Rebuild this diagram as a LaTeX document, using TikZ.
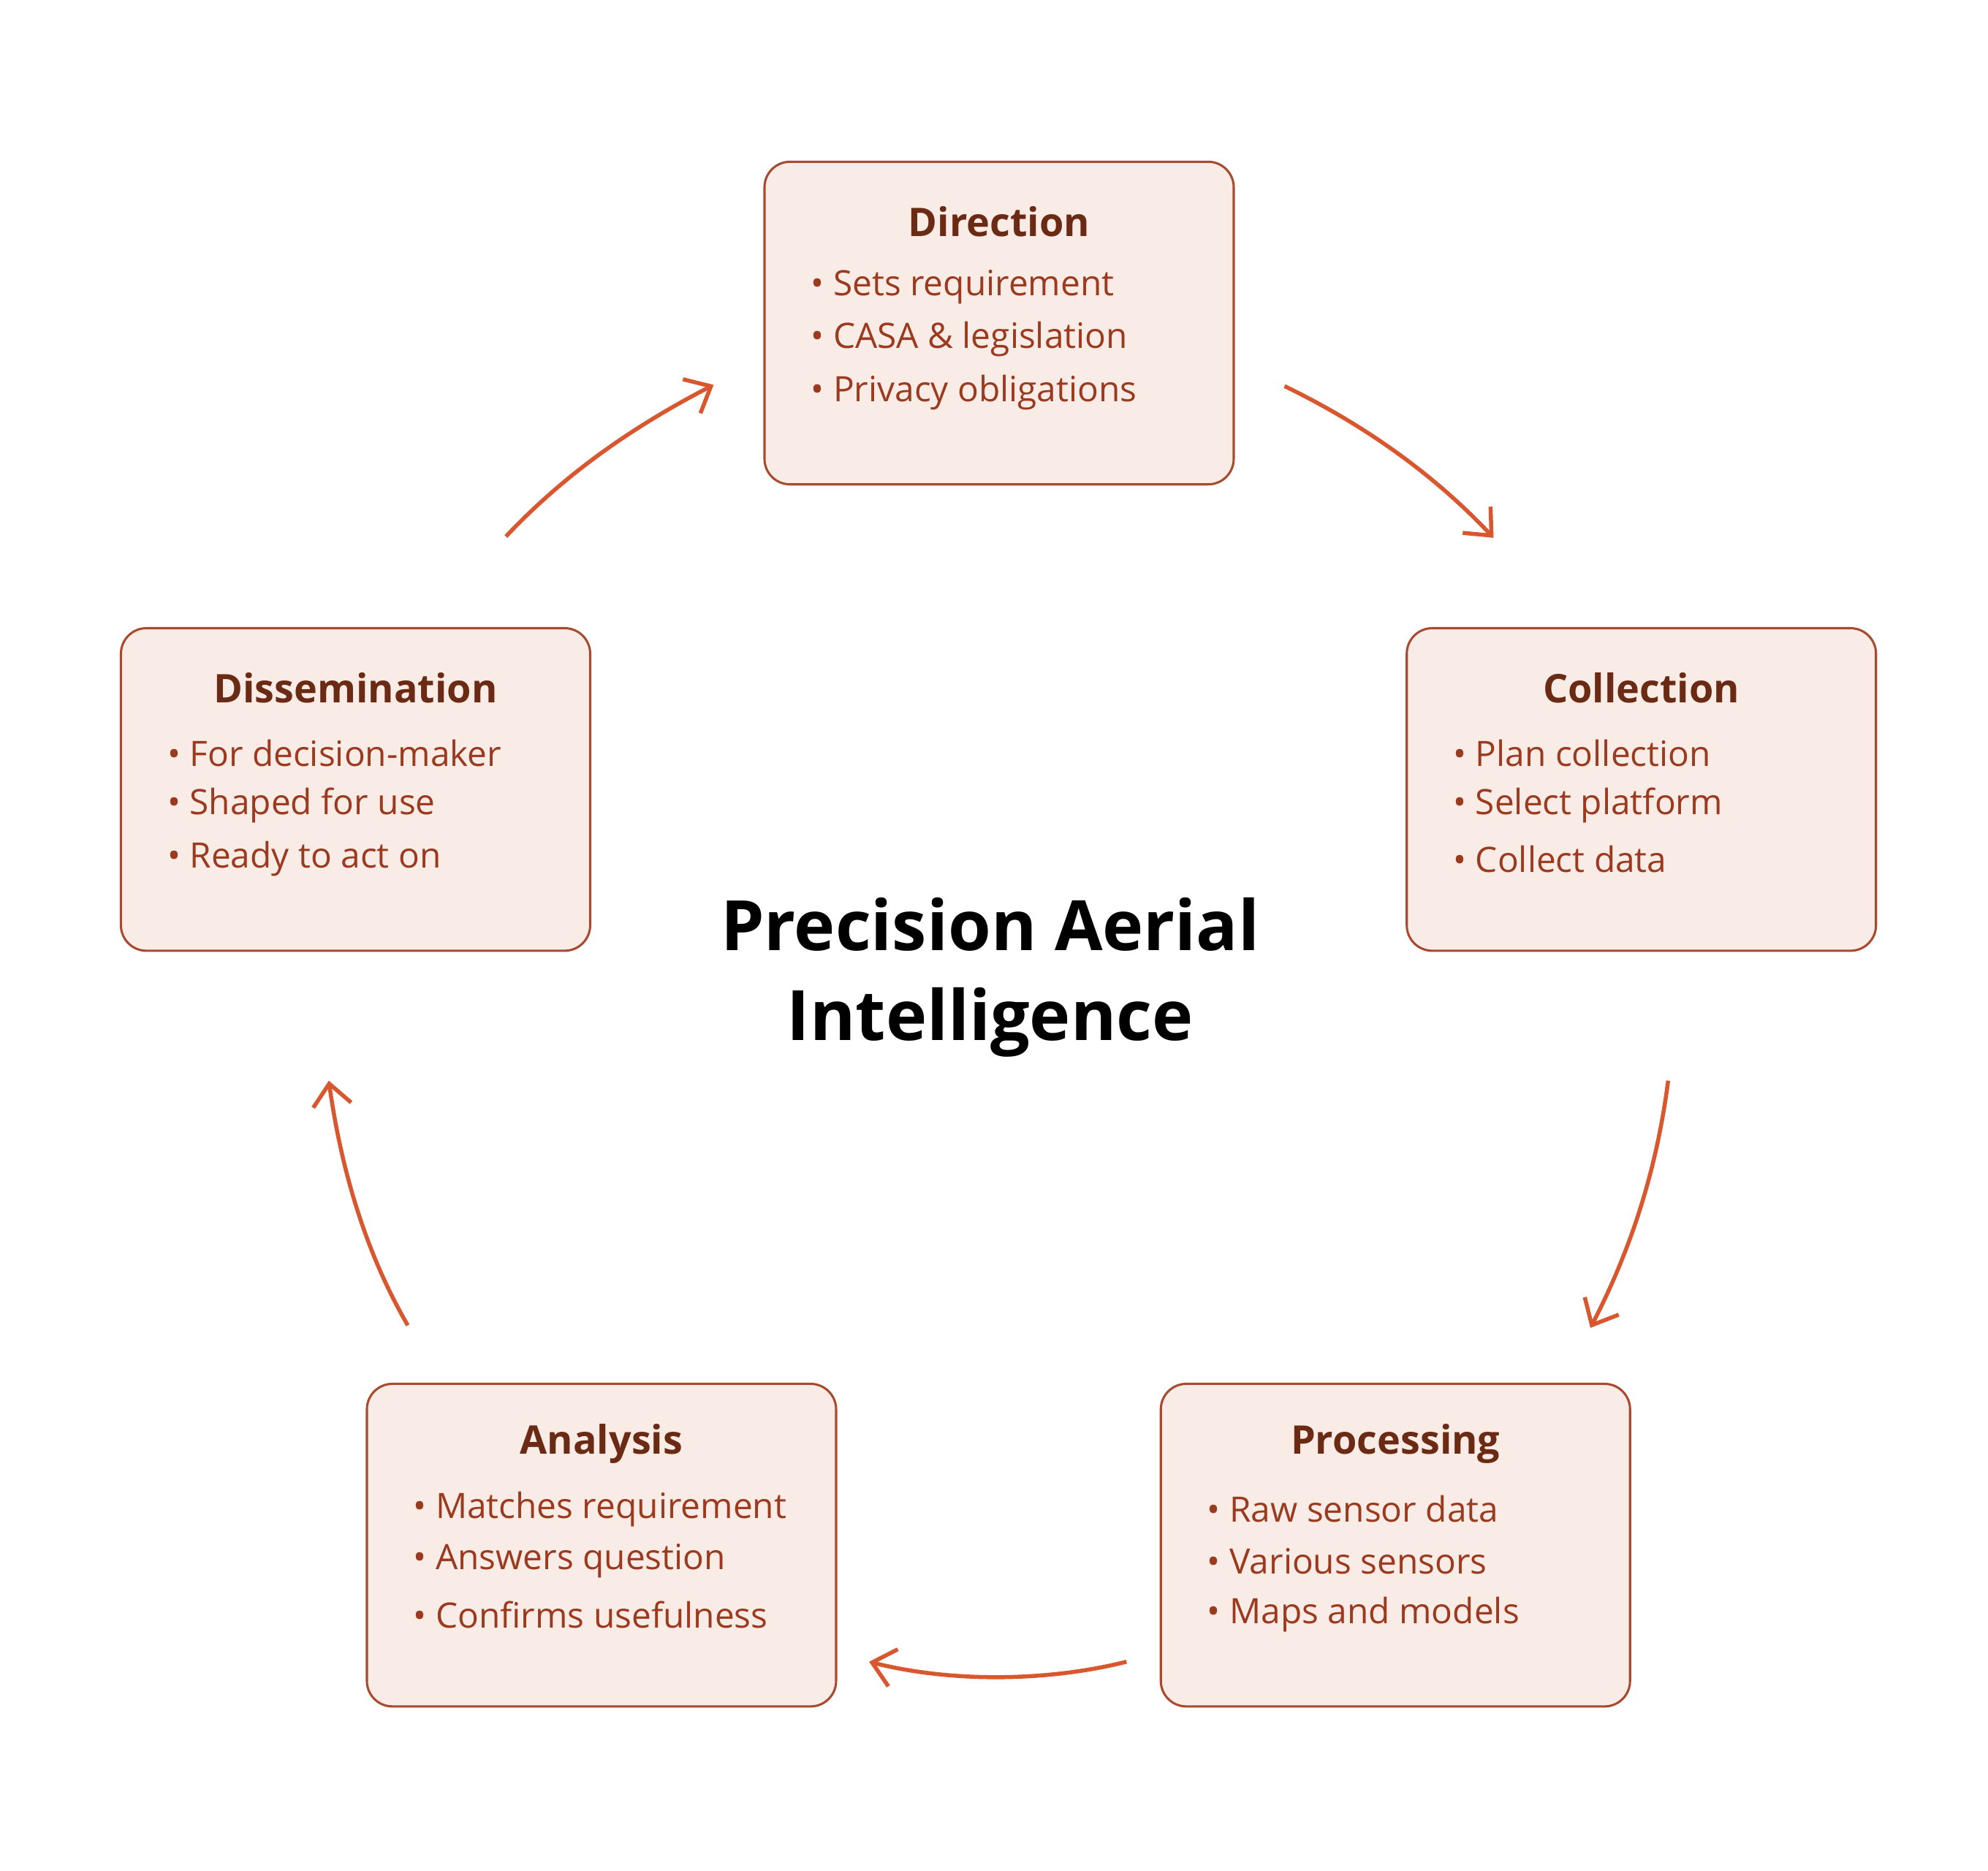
\documentclass[tikz,border=0pt]{standalone}
\usepackage{fontspec}
\setmainfont{Open Sans}
\usetikzlibrary{arrows.meta}
\definecolor{boxfill}{HTML}{F9ECE6}
\definecolor{boxline}{HTML}{A84A30}
\definecolor{ttl}{HTML}{6B2A14}
\definecolor{txt}{HTML}{9C3A1F}
\definecolor{arr}{HTML}{D9572E}
\tikzset{
 box/.style={draw=boxline,fill=boxfill,rounded corners=0.2cm,line width=0.5pt,minimum width=3.68cm,minimum height=2.53cm},
 btitle/.style={text=ttl,font=\fontsize{8.8}{10}\selectfont\bfseries},
 bul/.style={text=txt,font=\fontsize{7.8}{9}\selectfont,anchor=west},
 cyc/.style={draw=arr,line width=0.9pt,-{Straight Barb[length=0.17cm,width=0.3cm]}}
}
\begin{document}
\begin{tikzpicture}[x=0.01cm,y=-0.01cm]
\useasboundingbox (0,0) rectangle (1560,1468);
\newcommand{\stage}[6]{%
 \node[box] (#1) at (#2) {};
 \node[btitle] (#1t) at ([yshift=-0.48cm]#1.north) {#3};
 \node[bul] (#1a) at ([xshift=0.25cm,yshift=-0.99cm]#1.north west) {• #4};
 \node[bul] (#1b) at ([xshift=0.25cm,yshift=-1.40cm]#1.north west) {• #5};
 \node[bul] (#1c) at ([xshift=0.25cm,yshift=-1.82cm]#1.north west) {• #6};
}
\stage{dir}{784,253.5}{Direction}{Sets requirement}{CASA \& legislation}{Privacy obligations}
\stage{col}{1288,619.5}{Collection}{Plan collection}{Select platform}{Collect data}
\stage{dis}{279,619.5}{Dissemination}{For decision-maker}{Shaped for use}{Ready to act on}
\stage{ana}{472,1212.5}{Analysis}{Matches requirement}{Answers question}{Confirms usefulness}
\stage{pro}{1095,1212.5}{Processing}{Raw sensor data}{Various sensors}{Maps and models}
\node[font=\fontsize{15.5}{20}\selectfont\bfseries,align=center] (title) at (777,767) {Precision Aerial\\Intelligence};
\coordinate (a1) at (1008,303); \coordinate (a2) at (1172,422);
\coordinate (b1) at (1309,848); \coordinate (b2) at (1248,1042);
\coordinate (c1) at (884,1304); \coordinate (c2) at (682,1304);
\coordinate (d1) at (320,1040); \coordinate (d2) at (258,848);
\coordinate (e1) at (397,421); \coordinate (e2) at (560,302);
\draw[cyc] (a1) .. controls (1070,333) and (1125,372) .. (a2);
\draw[cyc] (b1) .. controls (1300,918) and (1280,980) .. (b2);
\draw[cyc] (c1) .. controls (820,1320) and (745,1320) .. (c2);
\draw[cyc] (d1) .. controls (288,985) and (268,920) .. (d2);
\draw[cyc] (e1) .. controls (445,370) and (500,333) .. (e2);
\end{tikzpicture}
\end{document}
